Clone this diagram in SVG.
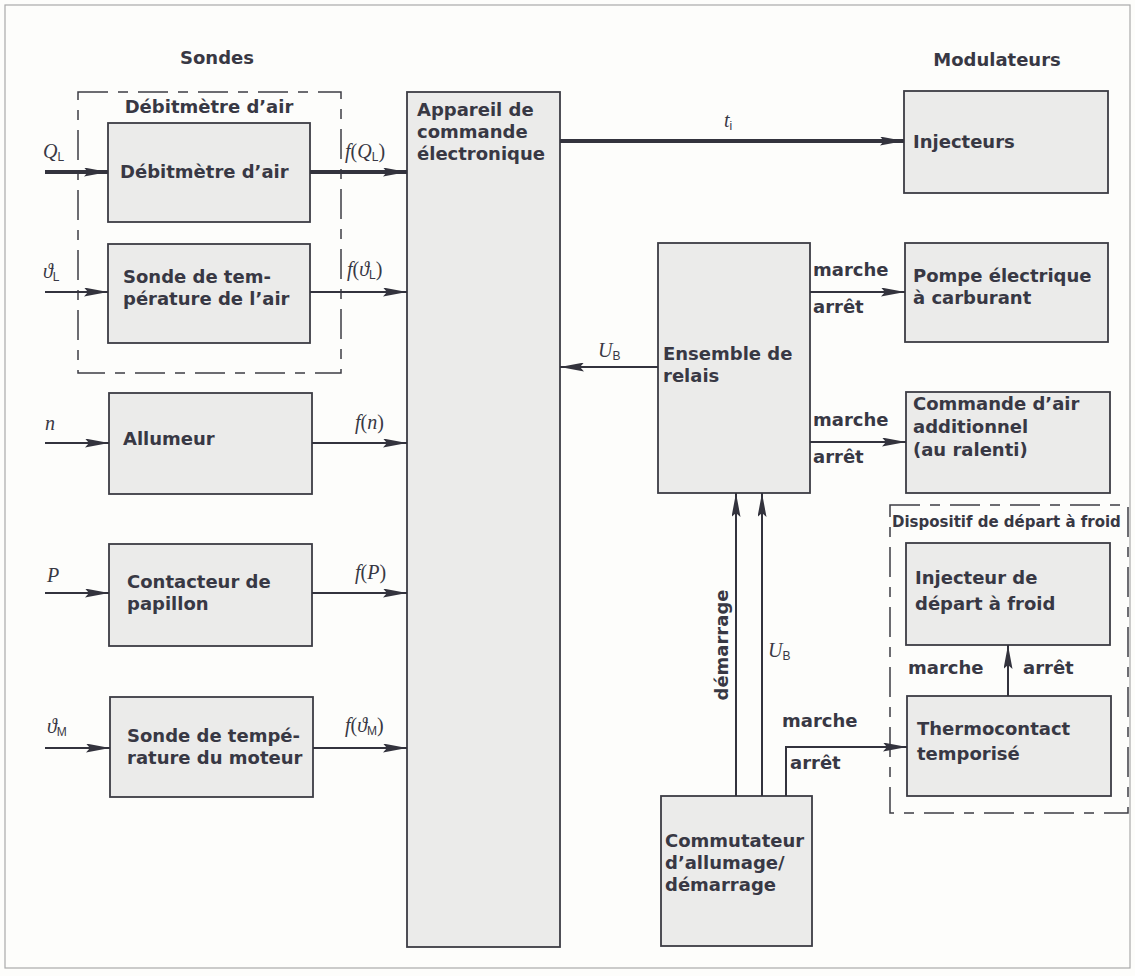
<svg xmlns="http://www.w3.org/2000/svg" width="1135" height="976" viewBox="0 0 1135 976">
<style>
.bg{fill:#fdfdfb}
.frame{fill:none;stroke:#aaa;stroke-width:1.2}
.box{fill:#ebebea;stroke:#3c3c44;stroke-width:1.8}
.dash{fill:none;stroke:#3c3c44;stroke-width:1.5;stroke-dasharray:30 10 10 10}
.t{font-family:"DejaVu Sans","Liberation Sans",sans-serif;font-weight:bold;font-size:18px;fill:#383844}
.ts{font-family:"DejaVu Sans","Liberation Sans",sans-serif;font-weight:bold;font-size:15px;fill:#383844}
.m{font-family:"Liberation Serif","DejaVu Serif",serif;font-size:20px;fill:#383844}
.i{font-style:italic}
.sub{font-family:"Liberation Sans",sans-serif;font-size:12px;font-style:normal}
.ln{fill:none;stroke:#33333d;stroke-width:2}
.thick{stroke-width:4}
</style>
<defs>
<marker id="ah" viewBox="0 0 24 9" refX="24" refY="4.5" markerWidth="24" markerHeight="9" markerUnits="userSpaceOnUse" orient="auto">
<path d="M0,0 L24,4.5 L0,9 L4,4.5 z" fill="#33333d"/>
</marker>
</defs>
<rect class="bg" x="0" y="0" width="1135" height="976"/>
<rect class="frame" x="5" y="5" width="1125" height="963"/>

<text class="t" x="217" y="64" text-anchor="middle" font-size="19">Sondes</text>
<text class="t" x="997" y="66" text-anchor="middle">Modulateurs</text>

<g id="grp-debitmetre">
<rect class="dash" x="78" y="92" width="263" height="281"/>
<text class="t" x="209" y="113" text-anchor="middle">Débitmètre d’air</text>
</g>
<g id="grp-depart-froid">
<rect class="dash" x="890" y="505" width="238" height="308"/>
<text class="ts" x="892" y="527">Dispositif de départ à froid</text>
</g>

<g id="n-debitmetre"><rect class="box" x="108" y="123" width="202" height="99"/><text class="t" x="120" y="178">Débitmètre d’air</text></g>
<g id="n-sonde-air"><rect class="box" x="108" y="244" width="202" height="99"/><text class="t" x="123" y="283">Sonde de tem-</text><text class="t" x="123" y="305">pérature de l’air</text></g>
<g id="n-allumeur"><rect class="box" x="109" y="393" width="203" height="101"/><text class="t" x="123" y="445">Allumeur</text></g>
<g id="n-contacteur"><rect class="box" x="109" y="544" width="203" height="102"/><text class="t" x="127" y="588">Contacteur de</text><text class="t" x="127" y="610">papillon</text></g>
<g id="n-sonde-moteur"><rect class="box" x="110" y="697" width="203" height="100"/><text class="t" x="127" y="742">Sonde de tempé-</text><text class="t" x="127" y="764">rature du moteur</text></g>

<g id="n-appareil"><rect class="box" x="407" y="92" width="153" height="855"/><text class="t" x="417" y="116">Appareil de</text><text class="t" x="417" y="138">commande</text><text class="t" x="417" y="160">électronique</text></g>

<g id="n-injecteurs"><rect class="box" x="904" y="91" width="204" height="102"/><text class="t" x="913" y="148">Injecteurs</text></g>
<g id="n-relais"><rect class="box" x="658" y="243" width="152" height="250"/><text class="t" x="663" y="360">Ensemble de</text><text class="t" x="663" y="382">relais</text></g>
<g id="n-pompe"><rect class="box" x="905" y="243" width="203" height="99"/><text class="t" x="913" y="282">Pompe électrique</text><text class="t" x="913" y="304">à carburant</text></g>
<g id="n-commande-air"><rect class="box" x="906" y="392" width="204" height="101"/><text class="t" x="913" y="410">Commande d’air</text><text class="t" x="913" y="433">additionnel</text><text class="t" x="913" y="456">(au ralenti)</text></g>
<g id="n-injecteur-froid"><rect class="box" x="906" y="543" width="204" height="102"/><text class="t" x="915" y="584">Injecteur de</text><text class="t" x="915" y="610">départ à froid</text></g>
<g id="n-thermocontact"><rect class="box" x="907" y="696" width="204" height="100"/><text class="t" x="917" y="735">Thermocontact</text><text class="t" x="917" y="760">temporisé</text></g>
<g id="n-commutateur"><rect class="box" x="661" y="796" width="151" height="150"/><text class="t" x="665" y="847">Commutateur</text><text class="t" x="665" y="869">d’allumage/</text><text class="t" x="665" y="891">démarrage</text></g>

<g id="connectors">
<path class="ln thick" d="M45,172 H108" marker-end="url(#ah)"/>
<path class="ln thick" d="M310,172 H407" marker-end="url(#ah)"/>
<path class="ln" d="M45,292 H108" marker-end="url(#ah)"/>
<path class="ln" d="M310,292 H407" marker-end="url(#ah)"/>
<path class="ln" d="M45,443 H109" marker-end="url(#ah)"/>
<path class="ln" d="M312,443 H407" marker-end="url(#ah)"/>
<path class="ln" d="M45,593 H109" marker-end="url(#ah)"/>
<path class="ln" d="M312,593 H407" marker-end="url(#ah)"/>
<path class="ln" d="M45,748 H110" marker-end="url(#ah)"/>
<path class="ln" d="M313,748 H407" marker-end="url(#ah)"/>
<path class="ln thick" d="M560,141 H904" marker-end="url(#ah)"/>
<path class="ln" d="M658,367 H560" marker-end="url(#ah)"/>
<path class="ln" d="M810,292 H905" marker-end="url(#ah)"/>
<path class="ln" d="M810,442 H906" marker-end="url(#ah)"/>
<path class="ln" d="M736,796 V493" marker-end="url(#ah)"/>
<path class="ln" d="M762,796 V493" marker-end="url(#ah)"/>
<path class="ln" d="M786,796 V747 H907" marker-end="url(#ah)"/>
<path class="ln" d="M1008,696 V645" marker-end="url(#ah)"/>

<text class="m" x="43" y="158"><tspan class="i">Q</tspan><tspan class="sub" dy="3">L</tspan></text>
<text class="m" x="345" y="158"><tspan class="i">f</tspan>(<tspan class="i">Q</tspan><tspan class="sub" dy="3">L</tspan><tspan dy="-3">)</tspan></text>
<text class="m" x="43" y="278"><tspan class="i">ϑ</tspan><tspan class="sub" dy="3">L</tspan></text>
<text class="m" x="347" y="276"><tspan class="i">f</tspan>(<tspan class="i">ϑ</tspan><tspan class="sub" dy="3">L</tspan><tspan dy="-3">)</tspan></text>
<text class="m" x="45" y="430"><tspan class="i">n</tspan></text>
<text class="m" x="355" y="429"><tspan class="i">f</tspan>(<tspan class="i">n</tspan>)</text>
<text class="m" x="47" y="582"><tspan class="i">P</tspan></text>
<text class="m" x="355" y="579"><tspan class="i">f</tspan>(<tspan class="i">P</tspan>)</text>
<text class="m" x="47" y="733"><tspan class="i">ϑ</tspan><tspan class="sub" dy="3">M</tspan></text>
<text class="m" x="345" y="732"><tspan class="i">f</tspan>(<tspan class="i">ϑ</tspan><tspan class="sub" dy="3">M</tspan><tspan dy="-3">)</tspan></text>
<text class="m" x="724" y="127"><tspan class="i">t</tspan><tspan class="sub" dy="3">i</tspan></text>
<text class="m" x="598" y="357"><tspan class="i">U</tspan><tspan class="sub" dy="3">B</tspan></text>
<text class="m" x="768" y="657"><tspan class="i">U</tspan><tspan class="sub" dy="3">B</tspan></text>

<text class="t" x="813" y="276">marche</text>
<text class="t" x="813" y="313">arrêt</text>
<text class="t" x="813" y="426">marche</text>
<text class="t" x="813" y="463">arrêt</text>
<text class="t" x="782" y="727">marche</text>
<text class="t" x="790" y="769">arrêt</text>
<text class="t" x="908" y="674">marche</text>
<text class="t" x="1023" y="674">arrêt</text>
<text class="t" transform="translate(728,645) rotate(-90)" text-anchor="middle">démarrage</text>
</g>
</svg>
